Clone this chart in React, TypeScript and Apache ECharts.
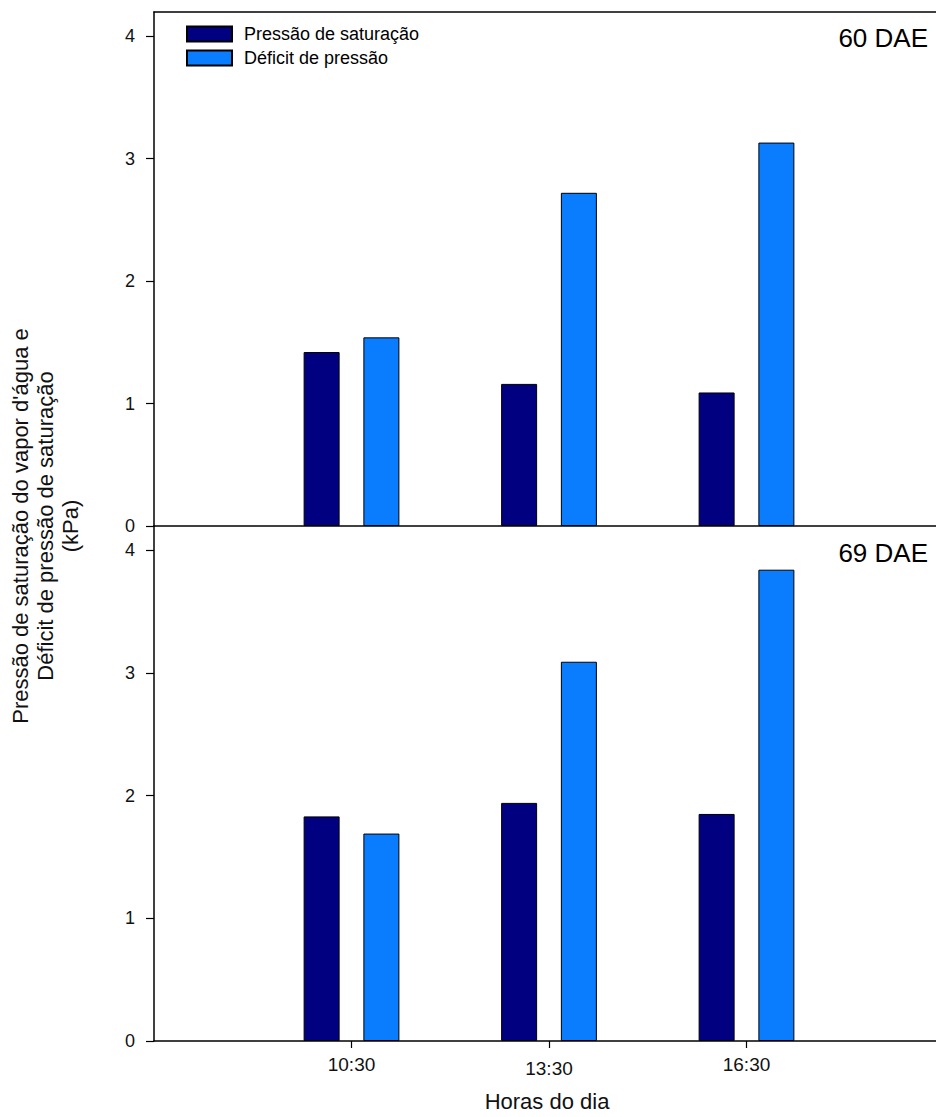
import React, { useEffect, useRef } from "react";
import * as echarts from "echarts";

// Hours of the day (decimal) and their labels
const hours = [10.5, 13.5, 16.5];
const hourLabels = ["10:30", "13:30", "16:30"];

// 60 DAE (kPa)
const sat60 = [1.42, 1.16, 1.09];
const def60 = [1.54, 2.72, 3.13];

// 69 DAE (kPa)
const sat69 = [1.83, 1.94, 1.85];
const def69 = [1.69, 3.09, 3.84];

const yTicks = [0, 1, 2, 3, 4];

const seriesNames = ["Pressão de saturação", "Déficit de pressão"];
const panelLabels = ["60 DAE", "69 DAE"];
const yTitle = "Pressão de saturação do vapor d'água e\nDéficit de pressão de saturação\n(kPa)";
const xTitle = "Horas do dia";

const FONT = "'Liberation Sans', Arial, sans-serif";
const DARK = "#000080";
const LIGHT = "#0a7dff";

const pairs = (vals: number[]) => hours.map((h, i) => [h, vals[i]]);

export default function App() {
  const ref = useRef<HTMLDivElement>(null);

  useEffect(() => {
    if (!ref.current) return;
    const chart = echarts.init(ref.current, null, { renderer: "svg" });

    const xBase = {
      type: "value" as const,
      min: 7.5,
      max: 19.5,
      splitLine: { show: false },
      axisLine: { show: true, lineStyle: { color: "#000", width: 1.5 } },
    };
    const yBase = {
      type: "value" as const,
      min: 0,
      max: 4.196,
      splitLine: { show: false },
      axisLine: { show: true, lineStyle: { color: "#000", width: 1.5 } },
      axisTick: {
        show: true,
        customValues: yTicks,
        length: 8,
        lineStyle: { color: "#000", width: 1.2 },
      },
      axisLabel: {
        customValues: yTicks,
        margin: 19,
        fontSize: 18,
        color: "#111",
        fontFamily: FONT,
      },
    };

    const bar = (name: string, vals: number[], color: string, idx: number) => ({
      type: "bar" as const,
      name,
      data: pairs(vals),
      xAxisIndex: idx,
      yAxisIndex: idx,
      barWidth: 36,
      barGap: "66%",
      itemStyle: { color, borderColor: "#000", borderWidth: 1 },
    });

    const labelText = { fontSize: 19, color: "#111", fontFamily: FONT };

    chart.setOption({
      animation: false,
      backgroundColor: "#fff",
      legend: {
        data: seriesNames,
        orient: "vertical",
        left: 186,
        top: 25,
        padding: 0,
        icon: "rect",
        itemWidth: 45,
        itemHeight: 15,
        itemGap: 6,
        textStyle: {
          fontSize: 18,
          fontFamily: FONT,
          color: "#000",
          padding: [0, 0, 0, 7],
        },
      },
      grid: [
        { left: 154, top: 12, right: 0, height: 514 },
        { left: 154, top: 526, right: 0, bottom: 76 },
      ],
      xAxis: [
        {
          ...xBase,
          gridIndex: 0,
          position: "bottom",
          axisTick: { show: false },
          axisLabel: { show: false },
        },
        {
          ...xBase,
          gridIndex: 1,
          position: "bottom",
          axisTick: {
            show: true,
            customValues: hours,
            length: 7,
            lineStyle: { color: "#000", width: 1.2 },
          },
          axisLabel: {
            customValues: hours,
            margin: 14,
            ...labelText,
            formatter: (v: number) => {
              const i = hours.indexOf(v);
              if (i < 0) return "";
              return i === 1 ? `{low|${hourLabels[i]}}` : hourLabels[i];
            },
            rich: {
              low: { ...labelText, padding: [4, 0, 0, 0] },
            },
          },
        },
        {
          ...xBase,
          gridIndex: 0,
          position: "top",
          axisTick: { show: false },
          axisLabel: { show: false },
        },
      ],
      yAxis: [
        { ...yBase, gridIndex: 0 },
        { ...yBase, gridIndex: 1 },
      ],
      series: [
        bar(seriesNames[0], sat60, DARK, 0),
        bar(seriesNames[1], def60, LIGHT, 0),
        bar(seriesNames[0], sat69, DARK, 1),
        bar(seriesNames[1], def69, LIGHT, 1),
      ],
      graphic: [
        {
          type: "text",
          x: 928,
          y: 38,
          style: {
            text: panelLabels[0],
            fontSize: 26,
            fontFamily: FONT,
            fill: "#000",
            align: "right",
            verticalAlign: "middle",
          },
        },
        {
          type: "text",
          x: 928,
          y: 553,
          style: {
            text: panelLabels[1],
            fontSize: 26,
            fontFamily: FONT,
            fill: "#000",
            align: "right",
            verticalAlign: "middle",
          },
        },
        {
          type: "text",
          x: 45.5,
          y: 526,
          rotation: Math.PI / 2,
          style: {
            text: yTitle,
            fontSize: 22,
            lineHeight: 25,
            fontFamily: FONT,
            fill: "#111",
            align: "center",
            verticalAlign: "middle",
          },
        },
        {
          type: "text",
          x: 547,
          y: 1101,
          style: {
            text: xTitle,
            fontSize: 22,
            fontFamily: FONT,
            fill: "#111",
            align: "center",
            verticalAlign: "middle",
          },
        },
      ],
    });

    return () => chart.dispose();
  }, []);

  return (
    <div
      style={{
        position: "absolute",
        left: 0,
        top: 0,
        width: 936,
        height: 1117,
        overflow: "hidden",
        background: "#fff",
      }}
    >
      <div ref={ref} style={{ width: 944, height: 1117 }} />
    </div>
  );
}
